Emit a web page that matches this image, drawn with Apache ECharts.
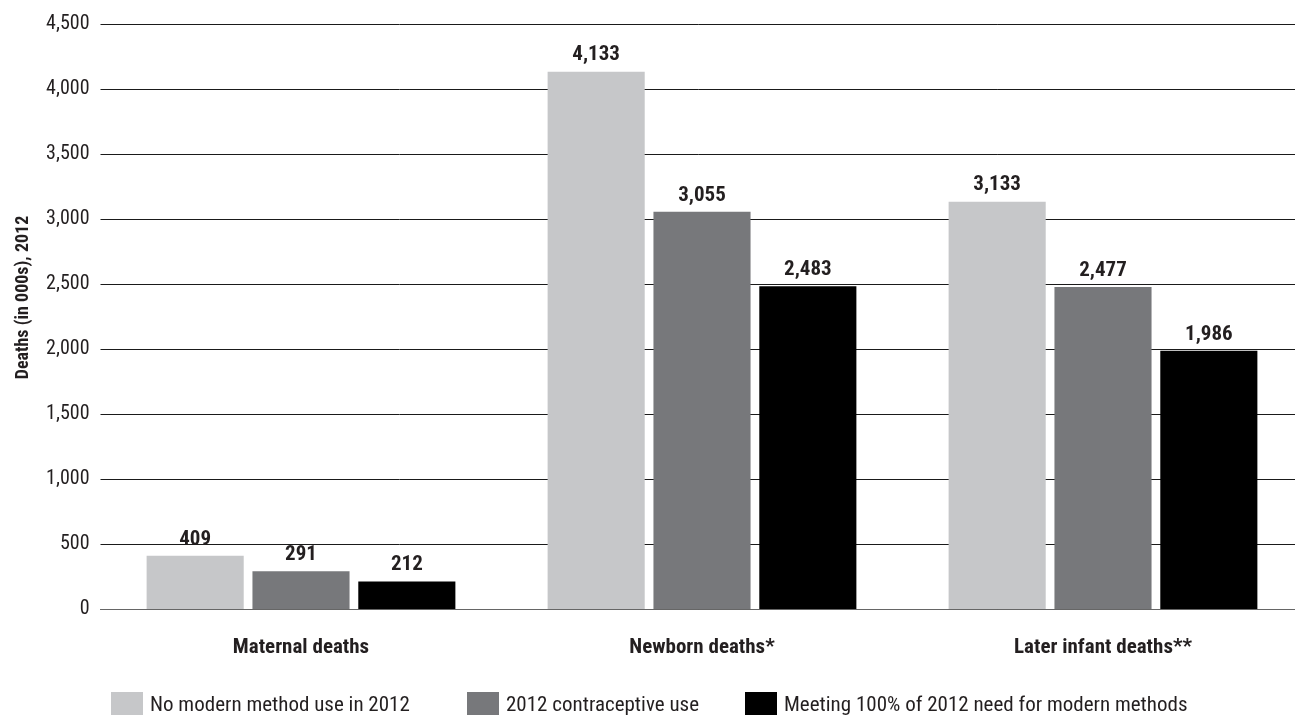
<!DOCTYPE html>
<html>
<head>
<meta charset="utf-8">
<script src="https://cdn.jsdelivr.net/npm/echarts@6/dist/echarts.min.js"></script>
<style>html,body{margin:0;padding:0;background:#fff}#c{width:1295px;height:715px}</style>
</head>
<body>
<div id="c"></div>
<script>
const categories = ['Maternal deaths', 'Newborn deaths*', 'Later infant deaths**'];
const seriesNames = ['No modern method use in 2012', '2012 contraceptive use', 'Meeting 100% of 2012 need for modern methods'];
const noModern = [409, 4133, 3133];
const current2012 = [291, 3055, 2477];
const meeting100 = [212, 2483, 1986];
const yTicks = [0, 500, 1000, 1500, 2000, 2500, 3000, 3500, 4000, 4500];

const FONT = '"Roboto Condensed", "Liberation Sans Narrow", "DejaVu Sans Condensed", "Liberation Sans", sans-serif';
const colors = ['#c6c7c9', '#77787b', '#000000'];
const values = [noModern, current2012, meeting100];

const chart = echarts.init(document.getElementById('c'));
const fmt = v => v.toLocaleString('en-US');

chart.setOption({
  animation: false,
  grid: { left: 100.5, right: -8.5, top: 24, bottom: 106, containLabel: false, outerBoundsMode: 'none' },
  legend: seriesNames.map((n, i) => ({
    data: [n],
    left: [106, 462, 740][i],
    top: 687,
    itemWidth: 32,
    itemHeight: 28,
    itemGap: 12,
    icon: 'rect',
    textStyle: { fontFamily: FONT, fontSize: 21, color: '#231f20', padding: [0, 0, 0, 2] }
  })),
  xAxis: {
    type: 'category',
    data: categories,
    axisTick: { show: false },
    axisLine: { show: true, lineStyle: { color: '#666', width: 1 } },
    axisLabel: { fontFamily: FONT, fontSize: 21, fontWeight: 'bold', color: '#231f20', margin: 28 }
  },
  yAxis: {
    type: 'value',
    min: 0, max: yTicks[yTicks.length - 1], interval: 500,
    name: 'Deaths (in 000s), 2012',
    nameLocation: 'middle',
    nameGap: 68,
    nameRotate: 90,
    nameTextStyle: { fontFamily: FONT, fontSize: 18, fontWeight: 'bold', color: '#231f20', padding: [0, 0, 0, 38] },
    axisLine: { show: false },
    axisTick: { show: false },
    splitLine: { lineStyle: { color: '#1a1a1a', width: 1 } },
    axisLabel: { fontFamily: FONT, fontSize: 20, color: '#231f20', margin: 11, formatter: v => fmt(v) }
  },
  series: seriesNames.map((n, i) => ({
    name: n,
    type: 'bar',
    data: values[i],
    barGap: '9%',
    barCategoryGap: '23%',
    itemStyle: { color: colors[i] },
    label: {
      show: true, position: 'top', distance: 6,
      fontFamily: FONT, fontSize: 21, fontWeight: 'bold', color: '#231f20',
      formatter: p => fmt(p.value)
    }
  }))
});
</script>
</body>
</html>
